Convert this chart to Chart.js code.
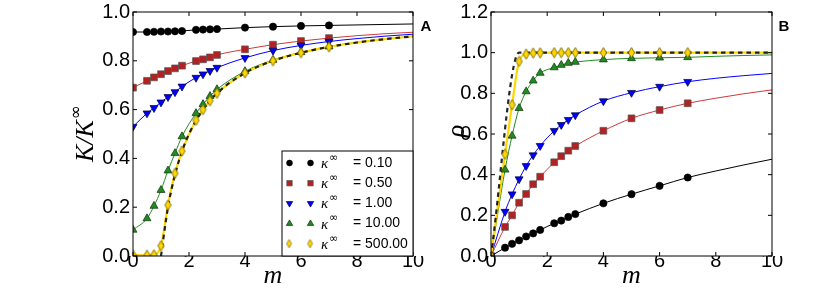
<!DOCTYPE html>
<html>
<head>
<meta charset="utf-8">
<script src="https://cdn.jsdelivr.net/npm/chart.js"></script>
<style>
  body { margin: 0; background: #fff; }
  #wrap { position: relative; width: 830px; height: 305px; }
  canvas { position: absolute; top: 0; }
  #chartA { left: 0; }
  #chartB { left: 415px; }
</style>
</head>
<body>
<div id="wrap">
  <canvas id="chartA" width="440" height="305"></canvas>
  <canvas id="chartB" width="415" height="305"></canvas>
</div>
<script>
// m values where the symbols sit, and the extra m values for the curves
var mMarks = [0, 0.5, 0.75, 1, 1.25, 1.5, 1.75, 2.25, 2.5, 2.75, 3, 4, 5, 6, 7]
var mTail = [8, 9, 10]
var kappaLabels = ['0.10', '0.50', '1.00', '10.00', '500.00']
var xTicksA = [0, 2, 4, 6, 8, 10]

// panel A : K / K_inf
var kBlack = [0.918, 0.918, 0.919, 0.920, 0.920, 0.921, 0.922, 0.927, 0.928, 0.929, 0.930, 0.936, 0.940, 0.943, 0.945]
var kBlackTail = [0.947, 0.949, 0.951]
var kRed = [0.690, 0.718, 0.732, 0.745, 0.758, 0.769, 0.780, 0.799, 0.806, 0.814, 0.824, 0.847, 0.866, 0.881, 0.893]
var kRedTail = [0.903, 0.911, 0.917]
var kBlue = [0.530, 0.585, 0.607, 0.630, 0.652, 0.672, 0.695, 0.731, 0.745, 0.759, 0.772, 0.812, 0.842, 0.863, 0.879]
var kBlueTail = [0.891, 0.901, 0.909]
var kGreen = [0.107, 0.154, 0.205, 0.270, 0.350, 0.421, 0.490, 0.585, 0.622, 0.655, 0.683, 0.757, 0.803, 0.835, 0.858]
var kGreenTail = [0.876, 0.889, 0.900]
var kYellow = [0.005, 0.003, 0.005, 0.042, 0.209, 0.339, 0.430, 0.556, 0.600, 0.636, 0.667, 0.750, 0.800, 0.833, 0.857]
var kYellowTail = [0.875, 0.889, 0.900]
var mDashA = [1, 1.25, 1.5, 1.75, 2, 2.5, 3, 4, 5, 6, 7, 8, 9, 10]
var kDash = [0, 0.2, 0.333, 0.429, 0.5, 0.6, 0.667, 0.75, 0.8, 0.833, 0.857, 0.875, 0.889, 0.9]

// panel B : rho
var rBlack = [0, 0.041, 0.060, 0.077, 0.096, 0.111, 0.128, 0.161, 0.174, 0.192, 0.206, 0.259, 0.304, 0.345, 0.386]
var rBlackTail = [0.418, 0.448, 0.476]
var rRed = [0, 0.143, 0.200, 0.262, 0.305, 0.353, 0.390, 0.461, 0.491, 0.518, 0.541, 0.616, 0.677, 0.718, 0.751]
var rRedTail = [0.776, 0.798, 0.817]
var rBlue = [0, 0.218, 0.304, 0.378, 0.443, 0.496, 0.542, 0.616, 0.645, 0.670, 0.693, 0.762, 0.803, 0.833, 0.857]
var rBlueTail = [0.874, 0.887, 0.898]
var rGreen = [0, 0.424, 0.591, 0.727, 0.809, 0.862, 0.900, 0.927, 0.939, 0.949, 0.954, 0.966, 0.972, 0.975, 0.977]
var rGreenTail = [0.982, 0.986, 0.989]
var rYellow = [0, 0.501, 0.744, 0.957, 0.993, 0.998, 0.999, 1, 1, 1, 1, 1, 1, 1, 1]
var rYellowTail = [1, 1, 1]
var mDashB = [0, 1, 10]
var rDash = [0, 1, 1]

function pontos(xs, ys) {
    return xs.map(function (x, i) { return { x: x, y: ys[i] } })
}

// thin diamond symbol, drawn once on a small canvas
function losango(k) {
    var c = document.createElement('canvas')
    c.width = Math.ceil(9 * k)
    c.height = Math.ceil(12 * k)
    var g = c.getContext('2d')
    g.scale(k, k)
    g.beginPath()
    g.moveTo(4.5, 0.8)
    g.lineTo(7.6, 6)
    g.lineTo(4.5, 11.2)
    g.lineTo(1.4, 6)
    g.closePath()
    g.fillStyle = '#ffd700'
    g.fill()
    g.lineWidth = 0.8
    g.strokeStyle = '#6b5a00'
    g.stroke()
    return c
}

var estilos = [
    { cor: '#000000', linha: '#000000', borda: '#000000', forma: 'circle', raio: 3.6, rot: 0 },
    { cor: '#b22222', linha: '#cc3a3a', borda: '#555555', forma: 'rect', raio: 4.8, rot: 0 },
    { cor: '#0000ff', linha: '#0000ff', borda: '#000033', forma: 'triangle', raio: 4.6, rot: 180 },
    { cor: '#228b22', linha: '#228b22', borda: '#0b300b', forma: 'triangle', raio: 4.6, rot: 0 },
    { cor: '#ffd700', linha: '#ffd700', borda: '#6b5a00', forma: losango(1), raio: 4.5, rot: 0 }
]
var losangoLegenda = losango(0.8)

function simbolos(ys, e) {
    return {
        data: pontos(mMarks, ys),
        showLine: false,
        pointStyle: e.forma,
        pointRadius: e.raio,
        pointRotation: e.rot,
        pointBackgroundColor: e.cor,
        pointBorderColor: e.borda,
        pointBorderWidth: 0.7
    }
}

function curva(ys, tail, e) {
    return {
        data: pontos(mMarks.concat(mTail), ys.concat(tail)),
        showLine: true,
        borderColor: e.linha,
        borderWidth: e === estilos[4] ? 2.2 : 1,
        pointRadius: 0,
        cubicInterpolationMode: 'monotone'
    }
}

function tracejada(xs, ys) {
    return {
        data: pontos(xs, ys),
        showLine: true,
        borderColor: 'rgba(0, 0, 0, 0.85)',
        borderWidth: 2.2,
        borderDash: [4.5, 4],
        pointRadius: 0,
        cubicInterpolationMode: 'monotone'
    }
}

var fonteTicks = { family: 'Liberation Sans, Arial, sans-serif', size: 20 }

function escalas(ymax, larguraY) {
    return {
        x: {
            type: 'linear', min: 0, max: 10,
            afterBuildTicks: function (s) { s.ticks = xTicksA.map(function (v) { return { value: v } }) },
            ticks: { color: '#000', font: fonteTicks, padding: -15, maxRotation: 0 },
            grid: { display: false },
            border: { display: false },
            afterFit: function (s) { s.height = 49 }
        },
        y: {
            min: 0, max: ymax,
            ticks: { stepSize: 0.2, color: '#000', font: fonteTicks, padding: -5,
                callback: function (v) { return v.toFixed(1) } },
            grid: { display: false },
            border: { display: false },
            afterFit: function (s) { s.width = larguraY }
        }
    }
}

// frame, inward ticks, axis titles and the panel letter
function moldura(letra, letraX, tituloY) {
    return {
        id: 'moldura' + letra,
        afterDraw: function (chart) {
            var ctx = chart.ctx
            var a = chart.chartArea
            var sx = chart.scales.x
            var sy = chart.scales.y
            ctx.save()
            ctx.strokeStyle = '#000'
            ctx.lineWidth = 1
            ctx.strokeRect(a.left, a.top, a.right - a.left, a.bottom - a.top)
            ctx.beginPath()
            sx.ticks.forEach(function (t) {
                var px = sx.getPixelForValue(t.value)
                ctx.moveTo(px, a.bottom); ctx.lineTo(px, a.bottom - 4)
                ctx.moveTo(px, a.top); ctx.lineTo(px, a.top + 4)
            })
            sy.ticks.forEach(function (t) {
                var py = sy.getPixelForValue(t.value)
                ctx.moveTo(a.left, py); ctx.lineTo(a.left + 4, py)
                ctx.moveTo(a.right, py); ctx.lineTo(a.right - 4, py)
            })
            ctx.stroke()

            ctx.fillStyle = '#000'
            ctx.textAlign = 'center'
            ctx.textBaseline = 'middle'
            ctx.font = 'italic 26px "Liberation Serif", serif'
            ctx.fillText('m', (a.left + a.right) / 2, 276)

            ctx.font = 'bold 15px "Liberation Sans", Arial, sans-serif'
            ctx.fillText(letra, letraX, 27)

            tituloY(ctx, a)
            ctx.restore()
        }
    }
}

function tituloK(ctx, a) {
    ctx.translate(86, (a.top + a.bottom) / 2)
    ctx.rotate(-Math.PI / 2)
    ctx.font = 'italic 26px "Liberation Serif", serif'
    var base = 'K/K'
    var w1 = ctx.measureText(base).width
    ctx.font = '17px "DejaVu Sans", sans-serif'
    var w2 = ctx.measureText('\u221e').width
    var x0 = -(w1 + w2) / 2
    ctx.textAlign = 'left'
    ctx.font = 'italic 26px "Liberation Serif", serif'
    ctx.fillText(base, x0, 0)
    ctx.font = '17px "DejaVu Sans", sans-serif'
    ctx.fillText('\u221e', x0 + w1 + 1, -9)
}

function tituloRho(ctx, a) {
    ctx.translate(42, (a.top + a.bottom) / 2 - 3)
    ctx.rotate(-Math.PI / 2)
    ctx.font = 'italic 26px "Liberation Serif", serif'
    ctx.fillText('\u03c1', 0, 0)
}

var legenda = {
    id: 'legenda',
    afterDraw: function (chart) {
        var ctx = chart.ctx
        ctx.save()
        ctx.fillStyle = '#fff'
        ctx.fillRect(282, 151, 131, 105)
        ctx.strokeStyle = '#000'
        ctx.lineWidth = 1
        ctx.strokeRect(282, 151, 131, 105)
        for (var i = 0; i < kappaLabels.length; i++) {
            var e = estilos[i]
            var y = 163 + i * 20.2
            ctx.fillStyle = e.cor
            ctx.strokeStyle = e.borda
            ctx.lineWidth = 0.7
            var forma = i === 4 ? losangoLegenda : e.forma
            var op = { pointStyle: forma, radius: e.raio * 0.8, rotation: e.rot, borderWidth: 0.7 }
            Chart.helpers.drawPoint(ctx, op, 289.5, y)
            Chart.helpers.drawPoint(ctx, op, 310.5, y)
            ctx.fillStyle = '#000'
            ctx.textAlign = 'left'
            ctx.textBaseline = 'middle'
            ctx.font = 'italic 15px "Liberation Serif", serif'
            ctx.fillText('\u03ba', 321, y + 1)
            ctx.font = '11px "DejaVu Sans", sans-serif'
            ctx.fillText('\u221e', 329, y - 5)
            ctx.font = '14px "Liberation Sans", Arial, sans-serif'
            ctx.fillText('= ' + kappaLabels[i], 353, y)
        }
        ctx.restore()
    }
}

var kSeries = [kBlack, kRed, kBlue, kGreen, kYellow]
var kTails = [kBlackTail, kRedTail, kBlueTail, kGreenTail, kYellowTail]
var rSeries = [rBlack, rRed, rBlue, rGreen, rYellow]
var rTails = [rBlackTail, rRedTail, rBlueTail, rGreenTail, rYellowTail]

function montarDatasets(series, tails, dash) {
    var ds = []
    for (var i = 4; i >= 0; i--) ds.push(simbolos(series[i], estilos[i]))
    ds.push(dash)
    for (var j = 4; j >= 0; j--) ds.push(curva(series[j], tails[j], estilos[j]))
    return ds
}

var graficoA = new Chart(document.getElementById('chartA'), {
    type: 'scatter',
    data: { datasets: montarDatasets(kSeries, kTails, tracejada(mDashA, kDash)) },
    options: {
        responsive: false,
        animation: false,
        layout: { padding: { left: 0, right: 27, top: 12, bottom: 0 } },
        plugins: { legend: { display: false }, tooltip: { enabled: false } },
        scales: escalas(1.0, 133)
    },
    plugins: [moldura('A', 426, tituloK), legenda]
})

var graficoB = new Chart(document.getElementById('chartB'), {
    type: 'scatter',
    data: { datasets: montarDatasets(rSeries, rTails, tracejada(mDashB, rDash)) },
    options: {
        responsive: false,
        animation: false,
        layout: { padding: { left: 0, right: 58, top: 12, bottom: 0 } },
        plugins: { legend: { display: false }, tooltip: { enabled: false } },
        scales: escalas(1.2, 76)
    },
    plugins: [moldura('B', 369, tituloRho)]
})
</script>
</body>
</html>
